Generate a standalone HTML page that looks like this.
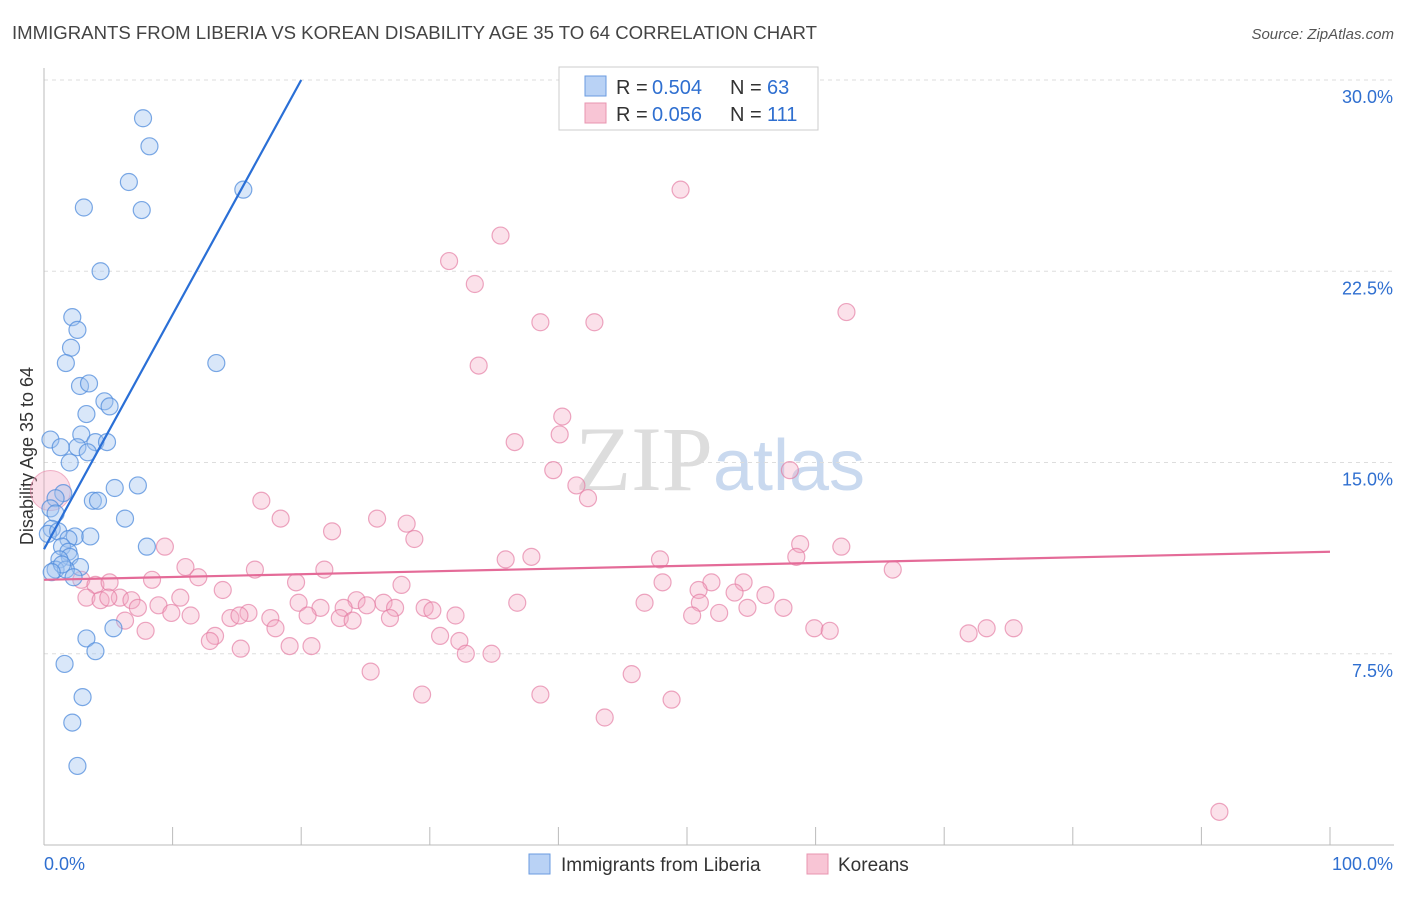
<!DOCTYPE html>
<html><head><meta charset="utf-8"><style>
body{margin:0;background:#fff;font-family:"Liberation Sans",sans-serif}
</style></head><body>
<svg id="c" width="1406" height="892" xmlns="http://www.w3.org/2000/svg" style="font-family:'Liberation Sans',sans-serif">
<text x="12" y="39" font-size="18" fill="#444" textLength="805" lengthAdjust="spacingAndGlyphs">IMMIGRANTS FROM LIBERIA VS KOREAN DISABILITY AGE 35 TO 64 CORRELATION CHART</text>
<text x="1394" y="39" font-size="15" fill="#555" text-anchor="end" font-style="italic">Source: ZipAtlas.com</text>
<text transform="translate(33,456) rotate(-90)" font-size="18" fill="#333" text-anchor="middle">Disability Age 35 to 64</text>
<text x="720" y="490" font-size="92" text-anchor="middle" fill="#ddd" font-family="Liberation Serif">ZIP<tspan fill="#c9d9ef" font-family="Liberation Sans" font-size="72">atlas</tspan></text>
<g id="grid"></g><g id="axes"></g><g id="pts"></g><g id="trend"></g>
<g>
<rect x="559" y="67" width="259" height="63" fill="#fff" stroke="#ccc"/>
<rect x="585" y="76" width="21" height="20" fill="#b9d2f5" stroke="#6a9be0"/>
<rect x="585" y="103" width="21" height="20" fill="#f8c5d5" stroke="#e895b0"/>
<text x="616" y="94" font-size="20" fill="#333">R =</text><text x="652" y="94" font-size="20" fill="#2f6fd0">0.504</text>
<text x="730" y="94" font-size="20" fill="#333">N =</text><text x="767" y="94" font-size="20" fill="#2f6fd0">63</text>
<text x="616" y="121" font-size="20" fill="#333">R =</text><text x="652" y="121" font-size="20" fill="#2f6fd0">0.056</text>
<text x="730" y="121" font-size="20" fill="#333">N =</text><text x="767" y="121" font-size="20" fill="#2f6fd0">111</text>
</g>
<g>
<rect x="529" y="854" width="21" height="20" fill="#b9d2f5" stroke="#6a9be0"/>
<text x="561" y="871" font-size="19" fill="#333">Immigrants from Liberia</text>
<rect x="807" y="854" width="21" height="20" fill="#f8c5d5" stroke="#e895b0"/>
<text x="838" y="871" font-size="19" fill="#333">Koreans</text>
</g>
</svg>
<script>
const yTicks=[7.5,15,22.5,30];
const yTickLabels=["7.5%","15.0%","22.5%","30.0%"];
const xLabels=["0.0%","100.0%"];
const blueX=[7.7,8.2,6.6,3.1,7.6,15.5,4.4,2.2,2.6,2.1,1.7,13.4,2.8,3.5,4.7,5.1,3.3,2.9,4.0,4.9,2.6,0.5,1.3,3.4,2.0,7.3,5.5,3.8,4.2,1.5,0.9,6.3,0.5,0.9,0.6,0.3,1.1,2.4,3.6,1.9,1.4,8.0,1.9,2.0,1.2,0.9,2.8,1.7,1.4,2.3,0.6,5.4,3.3,4.0,1.6,3.0,2.2,2.6];
const blueY=[28.5,27.4,26.0,25.0,24.9,25.7,22.5,20.7,20.2,19.5,18.9,18.9,18.0,18.1,17.4,17.2,16.9,16.1,15.8,15.8,15.6,15.9,15.6,15.4,15.0,14.1,14.0,13.5,13.5,13.8,13.6,12.8,13.2,13.0,12.4,12.2,12.3,12.1,12.1,12.0,11.7,11.7,11.5,11.3,11.2,10.8,10.9,10.8,11.0,10.5,10.7,8.5,8.1,7.6,7.1,5.8,4.8,3.1];
const pinkX=[49.5,35.5,31.5,33.5,38.6,42.8,62.4,33.8,40.3,40.1,36.6,39.6,58.0,41.4,42.3,16.9,18.4,25.9,28.2,22.4,28.8,9.4,58.8,62.0,58.5,37.9,35.9,47.9,66.0,11.0,21.8,16.4,12.0,8.4,27.8,19.6,48.1,51.9,54.4,2.9,4.0,5.1,13.9,53.7,50.9,56.1,10.6,3.3,4.4,5.9,6.8,5.0,19.8,24.3,26.4,46.7,36.8,51.0,8.9,7.3,29.6,21.5,23.3,25.1,27.3,54.7,57.5,30.2,32.0,11.4,9.9,14.5,15.9,15.2,17.6,20.5,23.0,24.0,26.9,50.4,52.5,6.3,18.0,59.9,61.1,71.9,73.3,75.4,7.9,30.8,32.3,13.3,12.9,15.3,19.1,20.8,32.8,34.8,25.4,45.7,29.4,38.6,48.8,43.6,91.4];
const pinkY=[25.7,23.9,22.9,22.0,20.5,20.5,20.9,18.8,16.8,16.1,15.8,14.7,14.7,14.1,13.6,13.5,12.8,12.8,12.6,12.3,12.0,11.7,11.8,11.7,11.3,11.3,11.2,11.2,10.8,10.9,10.8,10.8,10.5,10.4,10.2,10.3,10.3,10.3,10.3,10.4,10.2,10.3,10.0,9.9,10.0,9.8,9.7,9.7,9.6,9.7,9.6,9.7,9.5,9.6,9.5,9.5,9.5,9.5,9.4,9.3,9.3,9.3,9.3,9.4,9.3,9.3,9.3,9.2,9.0,9.0,9.1,8.9,9.1,9.0,8.9,9.0,8.9,8.8,8.9,9.0,9.1,8.8,8.5,8.5,8.4,8.3,8.5,8.5,8.4,8.2,8.0,8.2,8.0,7.7,7.8,7.8,7.5,7.5,6.8,6.7,5.9,5.9,5.7,5.0,1.3];
const blueTrend=[[0,11.6],[20,30]];
const pinkTrend=[[0,10.4],[100,11.5]];
const NS="http://www.w3.org/2000/svg";
const X0=44,X1=1330,Y0=845,PY=25.5;
const sx=v=>X0+(X1-X0)*v/100, sy=v=>Y0-v*PY;
function mk(t,a,p){const e=document.createElementNS(NS,t);for(const k in a)e.setAttribute(k,a[k]);document.getElementById(p).appendChild(e);return e;}
yTicks.forEach((t,i)=>{
 const l=mk('line',{x1:X0,x2:1394,y1:sy(t),y2:sy(t),stroke:'#ddd','stroke-dasharray':'4,4'},'grid');
 
 
 const tx=mk('text',{x:1393,y:sy(t)+23,'font-size':18,fill:'#2f6fd0','text-anchor':'end'},'axes');tx.textContent=yTickLabels[i];
 
 
});
mk('line',{x1:X0,x2:X0,y1:68,y2:Y0,stroke:'#bbb'},'axes');
mk('line',{x1:X0,x2:1394,y1:Y0,y2:Y0,stroke:'#bbb'},'axes');
for(let i=1;i<=10;i++){const t=mk('line',{x1:sx(i*10),x2:sx(i*10),y1:Y0,y2:Y0-18,stroke:'#bbb'},'axes');
 
 }
[[0,'start',44],[100,'end',1393]].forEach((d,i)=>{const t=mk('text',{x:d[2],y:870,'font-size':18,fill:'#2f6fd0','text-anchor':d[1]},'axes');t.textContent=xLabels[i];
 
 });
const big=mk('circle',{cx:sx(0.5),cy:sy(13.9),r:20,fill:'rgba(244,160,190,0.35)',stroke:'rgba(230,130,165,0.6)'},'pts');


pinkX.forEach((x,i)=>{const c=mk('circle',{cx:sx(x),cy:sy(pinkY[i]),r:8.5,fill:'rgba(244,170,195,0.35)',stroke:'rgba(228,120,160,0.65)','stroke-width':1.2},'pts');
 
 });
blueX.forEach((x,i)=>{const c=mk('circle',{cx:sx(x),cy:sy(blueY[i]),r:8.5,fill:'rgba(160,195,240,0.4)',stroke:'rgba(80,140,220,0.75)','stroke-width':1.2},'pts');
 
 });
const bl=mk('line',{x1:sx(blueTrend[0][0]),y1:sy(blueTrend[0][1]),x2:sx(blueTrend[1][0]),y2:sy(blueTrend[1][1]),stroke:'#2a6fd6','stroke-width':2.2},'trend');


const pl=mk('line',{x1:sx(pinkTrend[0][0]),y1:sy(pinkTrend[0][1]),x2:sx(pinkTrend[1][0]),y2:sy(pinkTrend[1][1]),stroke:'#e46b98','stroke-width':2.2},'trend');


</script>
</body></html>
